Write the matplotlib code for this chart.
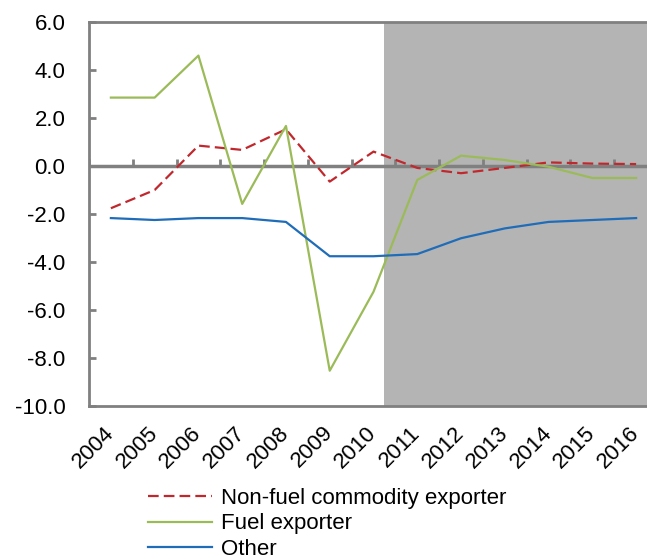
import matplotlib
matplotlib.use("Agg")
import matplotlib.pyplot as plt
import numpy as np

plt.rcParams['font.family'] = ['Liberation Sans', 'DejaVu Sans']

years = ['2004', '2005', '2006', '2007', '2008', '2009', '2010',
         '2011', '2012', '2013', '2014', '2015', '2016']
non_fuel = [-1.76, -1.0, 0.85, 0.67, 1.53, -0.65, 0.6,
            -0.08, -0.3, -0.08, 0.15, 0.1, 0.08]
fuel = [2.85, 2.85, 4.6, -1.58, 1.67, -8.53, -5.24,
        -0.58, 0.43, 0.25, -0.03, -0.5, -0.5]
other = [-2.17, -2.25, -2.17, -2.17, -2.33, -3.76, -3.76,
         -3.67, -3.01, -2.6, -2.33, -2.25, -2.17]
labels = ['Non-fuel commodity exporter', 'Fuel exporter', 'Other']
y_ticks = [6.0, 4.0, 2.0, 0.0, -2.0, -4.0, -6.0, -8.0, -10.0]
shade_start = 6.25  # projection region begins just after 2010

W, H = 647, 559
fig = plt.figure(figsize=(W / 100, H / 100), dpi=100)
ax = fig.add_axes([89 / W, 1 - 406 / H, (W - 89 + 11) / W, (406 - 22) / H])

x = np.arange(len(years))
ax.set_xlim(-0.5, len(years) - 0.5)
ax.set_ylim(-10, 6)

ax.axvspan(shade_start, len(years) - 0.5, color='#b4b4b4', zorder=0, lw=0)

gray = '#808080'
# zero axis line with category-boundary tick marks
ax.axhline(0, color=gray, lw=2.5, zorder=1)
bounds = np.arange(len(years) + 1) - 0.5
ax.vlines(bounds, 0, 0.28, color=gray, lw=2, zorder=1)

ln1, = ax.plot(x, non_fuel, color='#c0282d', lw=1.6, dashes=(4.8, 2.3), zorder=3)
ln2, = ax.plot(x, fuel, color='#9bbb59', lw=1.6, zorder=3)
ln3, = ax.plot(x, other, color='#1f6cb8', lw=1.6, zorder=3)

for s in ['left', 'bottom', 'top', 'right']:
    ax.spines[s].set_color(gray)
    ax.spines[s].set_linewidth(2)

ax.set_yticks(y_ticks)
ax.set_yticklabels([f'{v:.1f}' for v in y_ticks], fontsize=16)
ax.tick_params(axis='y', direction='in', length=5, width=2, color=gray, pad=17)

ax.set_xticks(x)
ax.set_xticklabels(years, fontsize=16, rotation=45, ha='right', va='center',
                   rotation_mode='anchor')
ax.tick_params(axis='x', length=0, pad=17)

fig.legend([ln1, ln2, ln3], labels, loc='upper left',
           bbox_to_anchor=(148 / W, 1 - 488 / H), frameon=False,
           fontsize=16, handlelength=2.9, handletextpad=0.4,
           labelspacing=0.2, borderpad=0, borderaxespad=0)

fig.savefig('out.png', dpi=100)
